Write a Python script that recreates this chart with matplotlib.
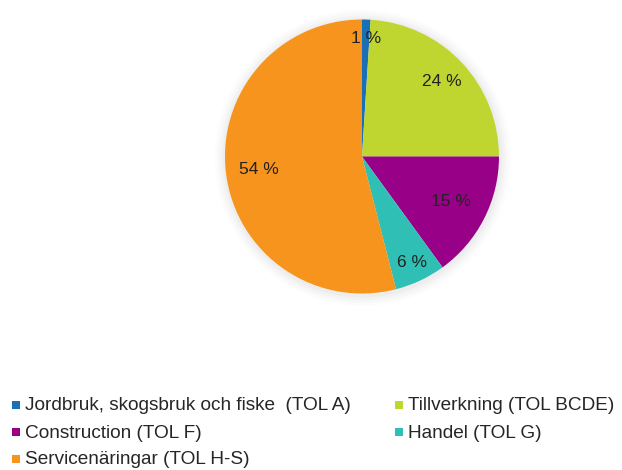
import matplotlib
matplotlib.use("Agg")
import numpy as np
import matplotlib.pyplot as plt
from matplotlib.patches import Circle, Rectangle

labels = ["Jordbruk, skogsbruk och fiske  (TOL A)", "Tillverkning (TOL BCDE)",
          "Construction (TOL F)", "Handel (TOL G)", "Servicenäringar (TOL H-S)"]
values = [1, 24, 15, 6, 54]
colors = ["#1a6fb5", "#bfd631", "#990088", "#2fbfb5", "#f7941d"]

W, H = 622, 470
fig = plt.figure(figsize=(W/100, H/100), dpi=100)
cx, cy, r = 362, 156.5, 137
ax = fig.add_axes([(cx - r*1.1)/W, (H - cy - r*1.1)/H, 2.2*r/W, 2.2*r/H])
for k, a in [(1.08, 0.025), (1.06, 0.035), (1.04, 0.045), (1.02, 0.06)]:
    ax.add_patch(Circle((0.005, -0.01), k, color="#999999", alpha=a, lw=0, zorder=0))
wedges, _ = ax.pie(values, colors=colors, startangle=90, counterclock=False,
                   radius=1, wedgeprops=dict(linewidth=0))
# per-label radial distances (style)
dists = [0.86, 0.80, 0.73, 0.855, 0.76]
for w, v, d in zip(wedges, values, dists):
    ang = np.deg2rad((w.theta1 + w.theta2) / 2)
    ax.text(d*np.cos(ang), d*np.sin(ang), f"{v} %", ha="center", va="center",
            fontsize=12.5, family="Liberation Sans", color="#222222")
ax.set_xlim(-1.1, 1.1)
ax.set_ylim(-1.1, 1.1)
ax.axis("off")

# legend (row-major, 2 columns)
col_x = [12, 395]
row_base = [410.5, 437.5, 464.5]
for i, (lab, c) in enumerate(zip(labels, colors)):
    row, col = divmod(i, 2)
    mx, by = col_x[col], row_base[row]
    fig.patches.append(Rectangle(((mx)/W, 1 - (by - 1.5)/H), 8/W, 8/H,
                                 transform=fig.transFigure, facecolor=c, edgecolor="none"))
    fig.text((mx + 13)/W, 1 - by/H, lab, ha="left", va="baseline",
             fontsize=13.7, family="Liberation Sans", color="#262626")
fig.savefig("out.png", dpi=100, facecolor="white")
